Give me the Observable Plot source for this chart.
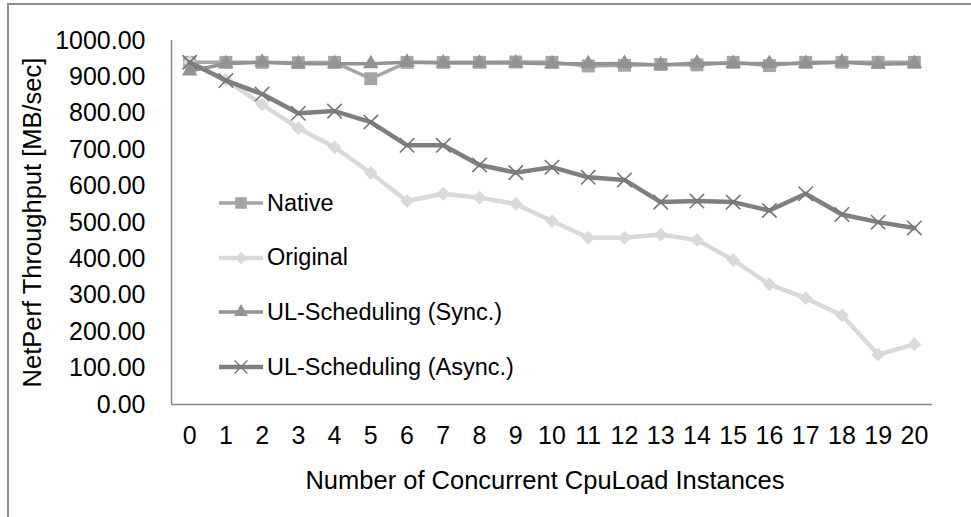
<!DOCTYPE html>
<html>
<head>
<meta charset="utf-8">
<script src="https://cdn.jsdelivr.net/npm/d3@7"></script>
<script src="https://cdn.jsdelivr.net/npm/@observablehq/plot@0.6"></script>
<style>
  html, body { margin: 0; padding: 0; background: #fff; }
  #wrap { position: relative; width: 971px; height: 517px; overflow: hidden; font-family: "Liberation Sans", Arial, sans-serif; }
  #frameTop { position: absolute; left: 7px; top: 3px; width: 980px; height: 2px; background: #8c8c8c; }
  #frameLeft { position: absolute; left: 7px; top: 3px; width: 2px; height: 520px; background: #8c8c8c; }
  #legend { position: absolute; left: 219px; top: 176px; font-size: 23.5px; color: #000; }
  .row { display: flex; align-items: center; height: 54.6px; white-space: nowrap; }
  .row svg { display: block; margin-right: 4px; }
</style>
</head>
<body>
<div id="wrap">
  <div id="chart"></div>
  <div id="frameTop"></div>
  <div id="frameLeft"></div>
  <div id="legend"></div>
</div>
<script>
const categories = [0, 1, 2, 3, 4, 5, 6, 7, 8, 9, 10, 11, 12, 13, 14, 15, 16, 17, 18, 19, 20];
const native   = [940, 940, 940, 939, 940, 895, 940, 940, 940, 941, 940, 930, 932, 934, 933, 940, 931, 940, 940, 940, 940];
const original = [940, 892, 824, 759, 707, 636, 559, 579, 568, 551, 504, 458, 458, 467, 452, 397, 330, 292, 245, 137, 165];
const sync     = [916, 936, 940, 936, 936, 936, 940, 938, 938, 938, 936, 936, 937, 933, 938, 937, 937, 937, 940, 935, 937];
const asyncS   = [940, 890, 853, 800, 806, 776, 712, 712, 658, 637, 652, 624, 617, 556, 559, 556, 533, 579, 522, 501, 485];
const seriesNames = ["Native", "Original", "UL-Scheduling (Sync.)", "UL-Scheduling (Async.)"];
const yTicks = [0, 100, 200, 300, 400, 500, 600, 700, 800, 900, 1000];
const xTitle = "Number of Concurrent CpuLoad Instances";
const yTitle = "NetPerf Throughput [MB/sec]";

const styles = [
  {values: native,   color: "#a5a5a5", width: 3.5, symbol: "square",   r: 7.3, kind: "fill"},
  {values: original, color: "#d9d9d9", width: 4.5, symbol: "diamond2", r: 6.2, kind: "fill"},
  {values: sync,     color: "#939393", width: 3.5, symbol: "triangle", r: 5.8, kind: "fill"},
  {values: asyncS,   color: "#7f7f7f", width: 4.5, symbol: "times",    r: 6.6, kind: "stroke", markColor: "#777777"}
];

const marks = [
  Plot.ruleY([0], {stroke: "#868686", strokeWidth: 1.5}),
  Plot.ruleX([-0.5], {stroke: "#868686", strokeWidth: 1.5}),
  Plot.axisY({ticks: yTicks, tickSize: 0, tickPadding: 26, tickFormat: d3.format(".2f"), label: null, fontSize: 25}),
  Plot.axisX({ticks: categories, tickSize: 0, tickPadding: 22, tickFormat: d => String(d), label: null, fontSize: 25}),
  Plot.text([yTitle], {frameAnchor: "left", textAnchor: "middle", rotate: -90, dx: -139, fontSize: 25.5, fill: "#000"}),
  Plot.text([xTitle], {frameAnchor: "bottom", textAnchor: "middle", dy: 84, dx: -7, fontSize: 25.5, fill: "#000"})
];

styles.forEach((s, i) => {
  const rows = categories.map((c, j) => ({x: c, y: s.values[j], series: seriesNames[i]}));
  marks.push(Plot.lineY(rows, {x: "x", y: "y", stroke: s.color, strokeWidth: s.width, strokeLinejoin: "round"}));
  if (s.kind === "fill") {
    marks.push(Plot.dot(rows, {x: "x", y: "y", symbol: () => s.symbol, r: s.r, fill: s.color, stroke: "none"}));
  } else {
    marks.push(Plot.dot(rows, {x: "x", y: "y", symbol: () => s.symbol, r: s.r, fill: "none", stroke: s.markColor, strokeWidth: 1.6}));
  }
});

const chart = Plot.plot({
  width: 971,
  height: 517,
  marginLeft: 171,
  marginTop: 40,
  marginRight: 39,
  marginBottom: 113,
  x: {domain: [-0.5, 20.5]},
  y: {domain: [0, 1000]},
  symbol: {type: "identity"},
  style: {fontSize: "25px", fontFamily: "'Liberation Sans', Arial, sans-serif", color: "#000", background: "transparent"},
  marks
});
document.getElementById("chart").appendChild(chart);

// Legend
const symMap = {square: d3.symbolSquare, diamond2: d3.symbolDiamond2, triangle: d3.symbolTriangle, times: d3.symbolTimes};
const legend = d3.select("#legend");
styles.forEach((s, i) => {
  const row = legend.append("div").attr("class", "row");
  const svg = row.append("svg").attr("width", 44).attr("height", 20);
  svg.append("line").attr("x1", 0).attr("x2", 44).attr("y1", 10).attr("y2", 10)
    .attr("stroke", s.color).attr("stroke-width", s.width);
  const path = d3.symbol(symMap[s.symbol], Math.PI * s.r * s.r * 0.8)();
  const p = svg.append("path").attr("d", path).attr("transform", "translate(22,10)");
  if (s.kind === "fill") p.attr("fill", s.color);
  else p.attr("fill", "none").attr("stroke", s.markColor).attr("stroke-width", 1.4);
  row.append("span").text(seriesNames[i]);
});
</script>
</body>
</html>
